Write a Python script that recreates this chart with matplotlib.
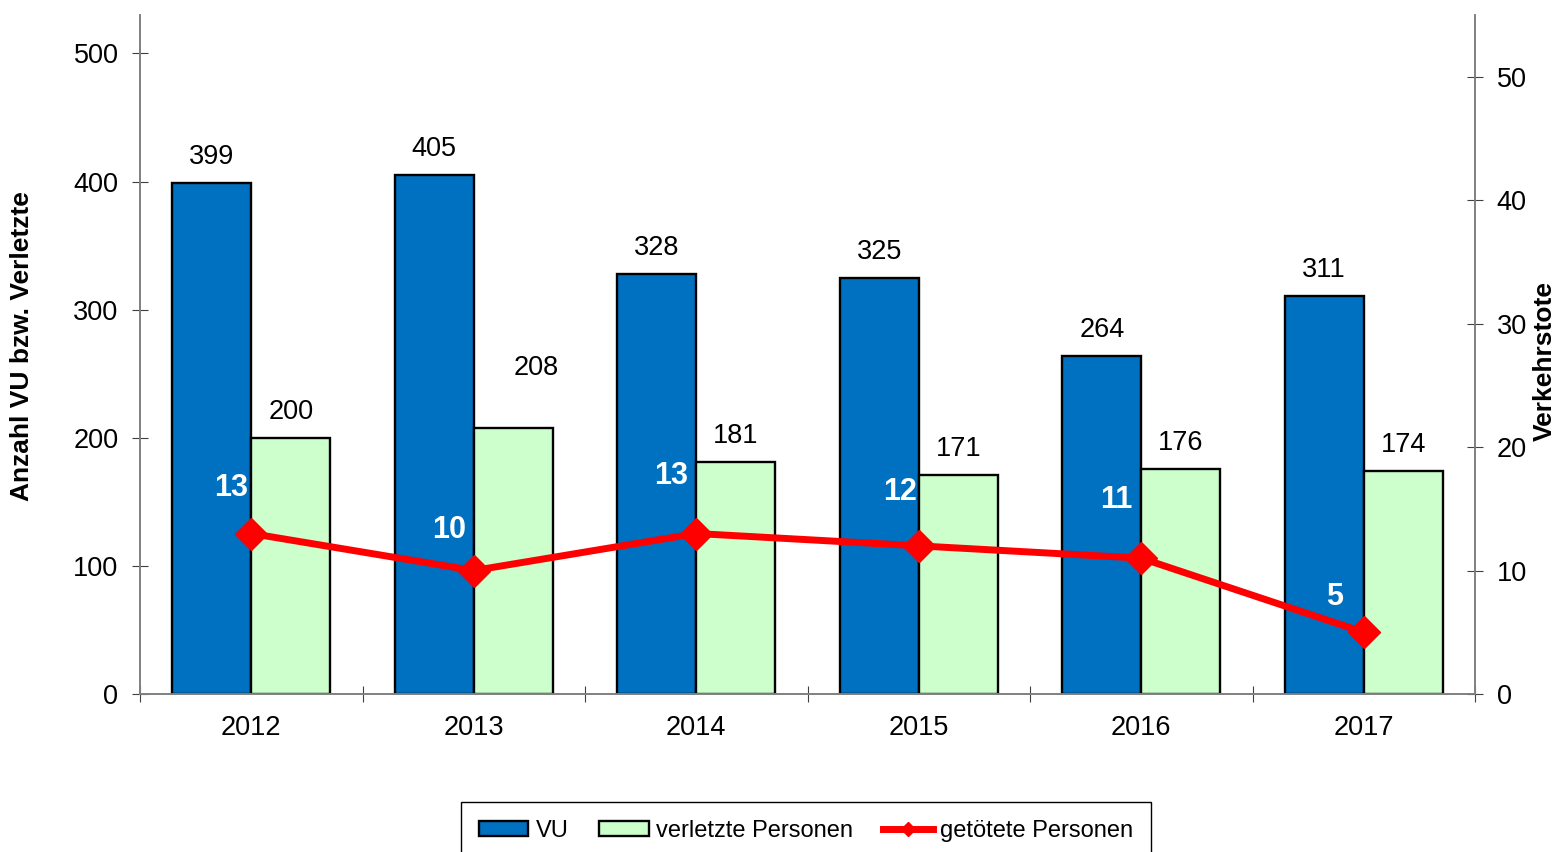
"""
Verkehrsunfälle, Verletzte und Verkehrstote 2012-2017.
"""
import numpy as np
import matplotlib.pyplot as plt
from matplotlib.patches import Patch
from matplotlib.lines import Line2D

plt.rcParams["font.family"] = ["Liberation Sans", "DejaVu Sans"]

years = ["2012", "2013", "2014", "2015", "2016", "2017"]
vu = [399, 405, 328, 325, 264, 311]
verletzte = [200, 208, 181, 171, 176, 174]
getoetete = [13, 10, 13, 12, 11, 5]

# label placement for the white numbers (pixel offsets from the marker)
tote_offsets = [(-20, 46), (-25, 41), (-25, 58), (-19, 54), (-25, 58), (-29, 35)]

blue = "#0070C0"
green = "#CCFFCC"
red = "#FF0000"

fig = plt.figure(figsize=(15.59, 8.52), dpi=100)
ax = fig.add_axes([140 / 1559, 1 - 694 / 852, (1475 - 140) / 1559, (694 - 15) / 852])
ax2 = ax.twinx()

x = np.arange(len(years))
w = 0.355
ax.bar(x - w / 2, vu, w, color=blue, edgecolor="black", linewidth=1.7, zorder=2)
ax.bar(x + w / 2, verletzte, w, color=green, edgecolor="black", linewidth=1.7, zorder=2)

# value labels above bars
for i in range(len(years)):
    ax.annotate(str(vu[i]), (x[i] - w / 2, vu[i]), xytext=(0, 26),
                textcoords="offset pixels", ha="center", va="center", fontsize=19.5)
    # the 2013 label sits higher and a bit to the right in the original
    off = (23, 60) if i == 1 else (0, 26)
    ax.annotate(str(verletzte[i]), (x[i] + w / 2, verletzte[i]), xytext=off,
                textcoords="offset pixels", ha="center", va="center", fontsize=19.5)

ax2.plot(x, getoetete, color=red, linewidth=5, marker="D", markersize=16, zorder=3)
for i in range(len(years)):
    ax2.annotate(str(getoetete[i]), (x[i], getoetete[i]), xytext=tote_offsets[i],
                 textcoords="offset pixels", ha="center", va="center",
                 fontsize=22, fontweight="bold", color="white")

ax.set_xlim(-0.5, len(years) - 0.5)
ax.set_ylim(0, 530)
ax2.set_ylim(0, 55)
ax.set_yticks([0, 100, 200, 300, 400, 500])
ax2.set_yticks([0, 10, 20, 30, 40, 50])

ax.set_xticks(np.arange(-0.5, len(years), 1.0))
ax.set_xticklabels([])
ax.set_xticks(x, minor=True)
ax.set_xticklabels(years, minor=True, fontsize=19.5)
ax.tick_params(axis="x", which="minor", length=0, pad=15)
ax.tick_params(axis="x", which="major", direction="inout", length=12, color="#404040")
ax.tick_params(axis="y", direction="inout", length=11, labelsize=19.5, pad=10, color="#404040")
ax2.tick_params(axis="y", direction="inout", length=11, labelsize=19.5, pad=10, color="#404040")

for a in (ax, ax2):
    a.spines["top"].set_visible(False)
    for s in ("left", "right", "bottom"):
        a.spines[s].set_color("#808080")
        a.spines[s].set_linewidth(1.2)
    a.patch.set_visible(False)

fig.text(22 / 1559, 1 - 346 / 852, "Anzahl VU bzw. Verletzte", rotation=90,
         ha="center", va="center", fontsize=19, fontweight="bold")
fig.text(1545 / 1559, 1 - 361 / 852, "Verkehrstote", rotation=90,
         ha="center", va="center", fontsize=19, fontweight="bold")

handles = [
    Patch(facecolor=blue, edgecolor="black", linewidth=1.7),
    Patch(facecolor=green, edgecolor="black", linewidth=1.7),
    Line2D([0], [0], color=red, linewidth=5, marker="D", markersize=7),
]
leg = fig.legend(handles, ["VU", "verletzte Personen", "getötete Personen"],
                 loc="upper center", bbox_to_anchor=(806 / 1559, 1 - 802 / 852),
                 ncol=3, fontsize=17, fancybox=False, frameon=True,
                 edgecolor="black", framealpha=1, handlelength=2.1,
                 handleheight=0.6, handletextpad=0.3, columnspacing=1.3,
                 borderpad=0.75, borderaxespad=0)
leg.get_frame().set_linewidth(1.0)

fig.savefig("out.png", dpi=100)
